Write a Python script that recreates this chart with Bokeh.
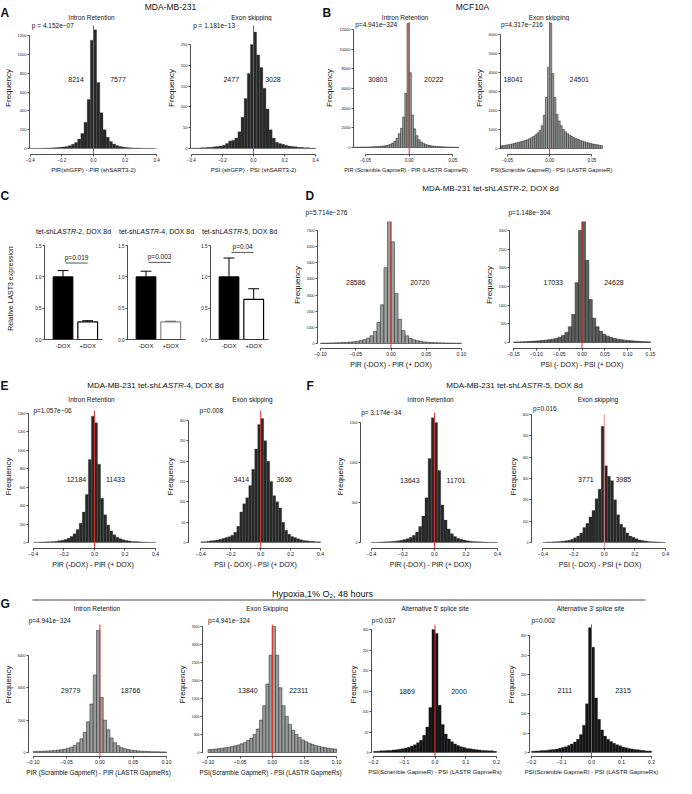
from bokeh.plotting import figure
from bokeh.layouts import column, row
from bokeh.models import Range1d, FixedTicker, Label, NumeralTickFormatter, Spacer
from bokeh.embed import file_html
from bokeh.resources import INLINE

FONT = "Liberation Sans"
INK = "#111111"
RED = "#e8302e"
MINUS = "\u2212"

# ------------------------------------------------------------------ data
# Histogram bin counts (left -> right); bins start / width
A_IR_START, A_IR_BW = -0.4, 0.02
A_IR_COUNTS = [2, 2, 3, 3, 4, 5, 6, 8, 10, 13, 17, 22, 30, 45, 65, 100, 160, 280, 520, 1150,
               1260, 700, 380, 200, 120, 75, 48, 32, 22, 15, 11, 8, 6, 5, 4, 3, 3, 2, 2, 1]
A_ES_START, A_ES_BW = -0.4, 0.02
A_ES_COUNTS = [1, 1, 1, 2, 2, 3, 3, 4, 5, 6, 8, 12, 18, 20, 25, 40, 75, 120, 180, 250,
               280, 225, 195, 145, 95, 45, 25, 15, 12, 10, 8, 6, 5, 4, 3, 3, 2, 2, 1, 1]
B_IR_START, B_IR_BW = -0.065, 0.0025
B_IR_COUNTS = [25, 28, 31, 35, 39, 44, 50, 56, 63, 72, 82, 95, 110, 130, 160, 200, 250, 330, 450, 650,
               950, 1400, 1950, 3100, 5500, 12600,
               7600, 3300, 1900, 1200, 800, 560, 420, 320, 250, 200, 160, 130, 110, 92, 78, 66,
               57, 50, 43, 38, 33, 29, 25, 22, 19, 17]
B_ES_START, B_ES_BW = -0.065, 0.0025
B_ES_COUNTS = [105, 118, 130, 145, 160, 175, 195, 215, 240, 270, 300, 330, 360, 390, 420, 460, 510, 570,
               640, 720, 820, 950, 1200, 1750, 2680, 4270,
               6600, 3950, 2680, 1800, 1450, 1200, 1000, 880, 780, 700, 630, 570, 520, 470, 430, 390,
               350, 320, 290, 260, 235, 215, 195, 175, 160, 145]
D_IR_START, D_IR_BW = -0.1, 0.005
D_IR_COUNTS = [24, 28, 32, 38, 44, 52, 62, 75, 90, 110, 140, 180, 240, 330, 480, 750, 1300, 2400, 4700, 7700,
               6300, 3100, 1500, 800, 480, 320, 230, 170, 130, 100, 80, 65, 55, 46, 40, 34, 29, 25, 22, 19]
D_ES_START, D_ES_BW = -0.15, 0.0075
D_ES_COUNTS = [12, 15, 18, 22, 26, 31, 37, 44, 52, 62, 75, 90, 110, 140, 190, 270, 420, 750, 1600, 3000,
               3300, 2200, 1150, 650, 420, 300, 220, 170, 135, 110, 90, 75, 62, 52, 44, 37, 31, 26, 22, 18]
E_IR_START, E_IR_BW = -0.4, 0.02
E_IR_COUNTS = [3, 4, 5, 6, 7, 9, 11, 14, 18, 24, 32, 45, 65, 95, 140, 210, 330, 520, 900, 1370,
               1300, 850, 480, 300, 190, 125, 85, 58, 40, 29, 21, 16, 12, 10, 8, 6, 5, 4, 3, 3]
E_ES_START, E_ES_BW = -0.4, 0.02
E_ES_COUNTS = [2, 2, 3, 4, 5, 6, 8, 10, 12, 14, 18, 25, 40, 75, 95, 110, 140, 180, 230, 290,
               305, 250, 200, 150, 115, 100, 85, 50, 30, 20, 15, 12, 9, 7, 5, 4, 3, 3, 2, 2]
F_IR_START, F_IR_BW = -0.4, 0.02
F_IR_COUNTS = [3, 4, 5, 7, 8, 10, 13, 16, 21, 27, 36, 48, 65, 90, 130, 200, 330, 560, 1050, 1560,
               1500, 900, 470, 280, 170, 110, 75, 54, 40, 30, 22, 17, 13, 10, 8, 6, 5, 4, 3, 2]
F_ES_START, F_ES_BW = -0.4, 0.02
F_ES_COUNTS = [1, 2, 2, 3, 4, 5, 6, 8, 10, 15, 22, 30, 45, 70, 90, 120, 150, 205, 250, 545,
               360, 310, 290, 200, 130, 85, 70, 45, 30, 25, 18, 12, 9, 7, 5, 4, 3, 2, 2, 1]
G_IR_START, G_IR_BW = -0.1, 0.005
G_IR_COUNTS = [62, 69, 77, 86, 97, 110, 127, 148, 175, 210, 260, 330, 440, 600, 850, 1250, 1900, 3000, 4800, 7560,
               3400, 2000, 1400, 900, 600, 420, 300, 230, 180, 145, 118, 98, 82, 70, 60, 52, 46, 41, 37, 33]
G_ES_START, G_ES_BW = -0.1, 0.005
G_ES_COUNTS = [80, 88, 97, 108, 120, 133, 148, 165, 185, 210, 240, 280, 330, 400, 500, 650, 900, 1300, 1900, 2700,
               3500, 2700, 1800, 1300, 1000, 780, 620, 500, 420, 350, 300, 260, 225, 195, 170, 150, 133, 118, 105, 95]
G_A5_START, G_A5_BW = -0.2, 0.01
G_A5_COUNTS = [3, 3, 4, 4, 5, 5, 6, 7, 8, 9, 11, 13, 16, 19, 24, 30, 42, 62, 110, 300,
               290, 115, 68, 45, 33, 26, 21, 17, 14, 12, 10, 9, 8, 7, 6, 5, 5, 4, 4, 3]
G_A3_START, G_A3_BW = -0.2, 0.01
G_A3_COUNTS = [3, 4, 4, 5, 5, 6, 7, 8, 9, 11, 13, 15, 18, 22, 27, 34, 46, 70, 125, 320,
               270, 140, 85, 58, 42, 34, 28, 24, 20, 17, 14, 12, 10, 9, 8, 7, 6, 5, 4, 4]

# left / right event counts and p-values
A_IR_N, A_ES_N = (8214, 7577), (2477, 3028)
B_IR_N, B_ES_N = (30803, 20222), (18041, 24501)
D_IR_N, D_ES_N = (28586, 20720), (17033, 24628)
E_IR_N, E_ES_N = (12184, 11433), (3414, 3636)
F_IR_N, F_ES_N = (13643, 11701), (3771, 3985)
G_IR_N, G_ES_N, G_A5_N, G_A3_N = (29779, 18766), (13840, 22311), (1869, 2000), (2111, 2315)
P_A = ["p = 4.152e\u221207", "p = 1.181e\u221213"]
P_B = ["p=4.941e\u2212324", "p=4.317e\u2212216"]
P_D = ["p=5.714e\u2212276", "p=1.148e\u2212304"]
P_E = ["p=1.057e\u221206", "p=0.008"]
P_F = ["p= 3.174e\u221234", "p=0.016"]
P_G = ["p=4.941e\u2212324", "p=4.941e\u2212324", "p=0.037", "p=0.002"]

# axis ticks
X_04 = [-0.4, -0.2, 0.0, 0.2, 0.4]
X_005 = [-0.05, 0.0, 0.05]
X_010 = [-0.10, -0.05, 0.0, 0.05, 0.10]
X_015 = [-0.15, -0.10, -0.05, 0.0, 0.05, 0.10, 0.15]
X_02 = [-0.2, -0.1, 0.0, 0.1, 0.2]
Y_A_IR = [0, 200, 400, 600, 800, 1000, 1200]
Y_A_ES = [0, 50, 100, 150, 200, 250]
Y_B_IR = [0, 2000, 4000, 6000, 8000, 10000, 12000]
Y_B_ES = [0, 1000, 2000, 3000, 4000, 5000, 6000]
Y_D_IR = [0, 1000, 2000, 3000, 4000, 5000, 6000, 7000]
Y_D_ES = [0, 500, 1000, 1500, 2000, 2500, 3000]
Y_E_IR = [0, 200, 400, 600, 800, 1000, 1200, 1400]
Y_E_ES = [0, 50, 100, 150, 200, 250, 300]
Y_F_IR = [0, 500, 1000, 1500]
Y_F_ES = [0, 100, 200, 300, 400, 500, 600]
Y_G_IR = [0, 2000, 4000, 6000]
Y_G_ES = [0, 500, 1000, 1500, 2000, 2500, 3000, 3500]
Y_G_SS = [0, 50, 100, 150, 200, 250, 300]

# panel C: relative LAST3 expression
C_GROUPS = ["-DOX", "+DOX"]
C_MINUS = [1.0, 1.0, 1.0]
C_MINUS_ERR = [0.10, 0.09, 0.30]
C_PLUS = [0.28, 0.28, 0.64]
C_PLUS_ERR = [0.02, 0.01, 0.17]
C_P = ["p=0.019", "p=0.003", "p=0.04"]
C_BRACKET = [1.22, 1.23, 1.39]
C_Y_TICKS = [0.0, 0.5, 1.0, 1.5]

# ------------------------------------------------------------------ helpers
DARK = ("#262928", "#3c4140", 0.3)
GREY = ("#979e9b", "#1c1c1c", 0.5)
GREY2 = ("#5d6361", "#151515", 0.5)
BLACK = ("#141414", "#141414", 0.3)

CW = {' ': 278, ',': 278, '-': 333, 'A': 667, 'B': 667, 'D': 722, 'L': 556, 'M': 833, 'O': 778,
      'R': 722, 'S': 667, 'T': 611, 'X': 667, 'd': 556, 'e': 556, 'h': 556, 's': 500, 't': 278}


def tw(s, px):
    return sum(CW.get(c, 556) for c in s) / 1000.0 * px


def fmt(v, d):
    s = f"{abs(v):.{d}f}"
    return (MINUS + s) if v < 0 else s


def lab(f, x, y, text, fs, align="left", style="normal", color=INK):
    f.add_layout(Label(x=x, y=y, text=text, text_font=FONT, text_font_size=fs, text_color=color,
                       text_align=align, text_baseline="middle", text_font_style=style))


def rich(f, xc, y, parts, px):
    x = xc - sum(tw(t, px) for t, _ in parts) / 2.0
    for t, st in parts:
        lab(f, x, y, t, f"{px}px", "left", st)
        x += tw(t, px)


def style_axis(ax, tick_fs, label_fs):
    ax.major_label_text_font = FONT
    ax.major_label_text_font_size = tick_fs
    ax.major_label_text_color = INK
    ax.axis_label_text_font = FONT
    ax.axis_label_text_font_size = label_fs
    ax.axis_label_text_font_style = "normal"
    ax.axis_label_text_color = INK
    ax.minor_tick_line_color = None
    ax.major_tick_in = 0
    ax.major_tick_out = 2
    ax.major_label_standoff = 1
    ax.axis_label_standoff = 2
    ax.axis_line_width = 0.8
    ax.major_tick_line_width = 0.8
    ax.axis_line_color = "#222222"
    ax.major_tick_line_color = "#222222"


def base_fig(W, H, lb, rb, bb, xr, yr):
    f = figure(width=W, height=H, x_range=Range1d(*xr), y_range=Range1d(*yr),
               toolbar_location=None, output_backend="svg", title=None,
               min_border_left=lb, min_border_right=rb, min_border_top=0, min_border_bottom=bb,
               outline_line_color=None, background_fill_color="white", border_fill_color="white")
    f.xgrid.visible = False
    f.ygrid.visible = False
    return f


def hist_fig(W, H, lb, rb, bb, xr, xticks, xdec, yticks, top_px, bot_px,
             start, bw, counts, colors, xlabel, p, p_x, p_px, n, nx, n_y, red_px,
             red_color=RED, yfs="4px", xfs="4.5px", xlfs="6px", pfs="6.5px", nfs="7px", lfs="8px"):
    ymax = yticks[-1]
    upp = ymax / float(H - bb - top_px - bot_px)
    y0, y1 = -bot_px * upp, ymax + top_px * upp
    f = base_fig(W, H, lb, rb, bb, xr, (y0, y1))
    centers = [start + (i + 0.5) * bw for i in range(len(counts))]
    f.vbar(x=centers, top=counts, bottom=0, width=bw,
           fill_color=colors[0], line_color=colors[1], line_width=colors[2])
    f.segment(x0=[0], y0=[y0], x1=[0], y1=[y1 - red_px * upp], line_color=red_color, line_width=1)
    ax = f.xaxis[0]
    ax.ticker = FixedTicker(ticks=xticks)
    ax.major_label_overrides = {t: fmt(t, xdec) for t in xticks}
    ax.bounds = (xticks[0], xticks[-1])
    ax.axis_label = xlabel
    style_axis(ax, xfs, xlfs)
    ay = f.yaxis[0]
    ay.ticker = FixedTicker(ticks=yticks)
    ay.bounds = (0, ymax)
    ay.axis_label = "Frequency"
    style_axis(ay, yfs, lfs)
    if p is not None:
        lab(f, p_x, y1 - p_px * upp, p, pfs)
    lab(f, nx[0], n_y, str(n[0]), nfs, "center")
    lab(f, nx[1], n_y, str(n[1]), nfs, "center")
    return f


def bar_fig(W, H, lb, rb, bb, i, plus_line, ylabel=None):
    upp = 1.5 / float(H - bb - 8)
    f = base_fig(W, H, lb, rb, bb, (-0.75, 1.6), (0, 1.5 + 8 * upp))
    m, me, pl, pe = C_MINUS[i], C_MINUS_ERR[i], C_PLUS[i], C_PLUS_ERR[i]
    f.segment(x0=[0, 1], y0=[m, pl], x1=[0, 1], y1=[m + me, pl + pe], line_color="black", line_width=1)
    f.segment(x0=[-0.22, 0.78], y0=[m + me, pl + pe], x1=[0.22, 1.22], y1=[m + me, pl + pe],
              line_color="black", line_width=1)
    f.vbar(x=[0], top=[m], width=0.8, fill_color="black", line_color="black", line_width=1)
    f.vbar(x=[1], top=[pl], width=0.8, fill_color="white", line_color=plus_line, line_width=1.2)
    by = C_BRACKET[i]
    f.segment(x0=[0.1], y0=[by], x1=[1.0], y1=[by], line_color="#555555", line_width=1)
    lab(f, 0.55, by + 6 * upp, C_P[i], "6.5px", "center")
    ax = f.xaxis[0]
    ax.ticker = FixedTicker(ticks=[0, 1])
    ax.major_label_overrides = {0: C_GROUPS[0], 1: C_GROUPS[1]}
    style_axis(ax, "6px", "6px")
    ax.major_tick_out = 0
    ax.major_label_standoff = 3
    ay = f.yaxis[0]
    ay.ticker = FixedTicker(ticks=C_Y_TICKS)
    ay.formatter = NumeralTickFormatter(format="0.0")
    ay.bounds = (0, 1.5)
    style_axis(ay, "4.5px", "7px")
    if ylabel:
        ay.axis_label = ylabel
        ay.axis_label_standoff = 18
    return f


def header(W, H):
    f = figure(width=W, height=H, x_range=Range1d(0, W), y_range=Range1d(H, 0),
               x_axis_type=None, y_axis_type=None, toolbar_location=None, output_backend="svg",
               title=None, min_border=0, outline_line_color=None,
               background_fill_color="white", border_fill_color="white")
    return f


def tparts(pre, tail):
    return [(pre, "normal"), ("LASTR", "italic"), (tail, "normal")]


# ------------------------------------------------------------------ row A / B
hA = header(322, 21)
lab(hA, 0, 12, "A", "12px", "left", "bold")
lab(hA, 170, 6, "MDA-MB-231", "8.5px", "center")
lab(hA, 91, 17, "Intron Retention", "6.5px", "center")
lab(hA, 251, 17, "Exon skipping", "6.5px", "center")

a1 = hist_fig(163, 157, 25, 6, 24, (-0.405, 0.405), X_04, 1, Y_A_IR, 14, 6,
              A_IR_START, A_IR_BW, A_IR_COUNTS, DARK, "PIR(shGFP) - PIR (shSART3-2)",
              P_A[0], -0.39, 4, A_IR_N, (-0.11, 0.155), 733, 4)
a2 = hist_fig(159, 157, 23, 6, 24, (-0.405, 0.405), X_04, 1, Y_A_ES, 23, 6,
              A_ES_START, A_ES_BW, A_ES_COUNTS, DARK, "PSI (shGFP) - PSI (shSART3-2)",
              P_A[1], -0.388, 4, A_ES_N, (-0.143, 0.125), 166, 4)

hB = header(294, 21)
lab(hB, 0, 12, "B", "12px", "left", "bold")
lab(hB, 150, 6, "MCF10A", "8.5px", "center")
lab(hB, 82.5, 17, "Intron Retention", "6.5px", "center")
lab(hB, 226.5, 17, "Exon skipping", "6.5px", "center")

b1 = hist_fig(149, 157, 29, 13, 24, (-0.0636, 0.0563), X_005, 2, Y_B_IR, 8, 7,
              B_IR_START, B_IR_BW, B_IR_COUNTS, GREY, "PIR (Scramble GapmeR) - PIR (LASTR GapmeR)",
              P_B[0], -0.0616, 3, B_IR_N, (-0.036, 0.028), 6915, 0, xlfs="5.6px")
b2 = hist_fig(145, 157, 24, 14, 24, (-0.058, 0.0625), X_005, 2, Y_B_ES, 13, 6,
              B_ES_START, B_ES_BW, B_ES_COUNTS, GREY, "PSI(Scramble GapmeR) - PSI (LASTR GapmeR)",
              P_B[1], -0.0575, 3, B_ES_N, (-0.043, 0.035), 3630, 0, xlfs="5.6px")

rowAB = row(column(hA, row(a1, a2)), column(hB, row(b1, b2)))

# ------------------------------------------------------------------ row C / D
hC = header(278, 57)
lab(hC, 0, 15, "C", "12px", "left", "bold")
rich(hC, 73, 51, tparts("tet-sh", "-2, DOX 8d"), 7)
rich(hC, 156, 51, tparts("tet-sh", "-4, DOX 8d"), 7)
rich(hC, 239, 51, tparts("tet-sh", "-5, DOX 8d"), 7)
c1 = bar_fig(110, 116, 44, 8, 14, 0, "black", "Relative LAST3 expression")
c2 = bar_fig(83, 116, 17, 8, 14, 1, "#888888")
c3 = bar_fig(85, 116, 17, 10, 14, 2, "black")

hD = header(384, 41)
lab(hD, 27, 15, "D", "12px", "left", "bold")
rich(hD, 212, 8, tparts("MDA-MB-231 tet-sh", "-2, DOX 8d"), 8)
lab(hD, 27, 32, P_D[0], "6.5px")
lab(hD, 230, 32, P_D[1], "6.5px")
d1 = hist_fig(192, 150, 39, 6, 23, (-0.1043, 0.1043), X_010, 2, Y_D_IR, 9, 5,
              D_IR_START, D_IR_BW, D_IR_COUNTS, GREY, "PIR (-DOX) - PIR (+ DOX)",
              None, 0, 0, D_IR_N, (-0.05, 0.041), 3750, 0, yfs="3.5px", xfs="5px", xlfs="7px")
d2 = hist_fig(192, 150, 39, 8, 23, (-0.1588, 0.1588), X_015, 2, Y_D_ES, 9, 6,
              D_ES_START, D_ES_BW, D_ES_COUNTS, GREY2, "PSI (- DOX) - PSI (+ DOX)",
              None, 0, 0, D_ES_N, (-0.063, 0.07), 1607, 0, yfs="3.5px", xfs="5px", xlfs="7px")

rowCD = row(column(hC, row(c1, c2, c3)), column(hD, row(d1, d2)))

# ------------------------------------------------------------------ row E / F
hE = header(328, 31)
lab(hE, 0, 12, "E", "12px", "left", "bold")
rich(hE, 155, 12, tparts("MDA-MB-231 tet-sh", "-4, DOX 8d"), 8)
lab(hE, 91, 26, "Intron Retention", "6.5px", "center")
lab(hE, 252, 26, "Exon skipping", "6.5px", "center")
lab(hE, 306, 12, "F", "12px", "left", "bold")
e1 = hist_fig(162, 167, 25, 5, 23, (-0.432, 0.413), X_04, 1, Y_E_IR, 9, 6,
              E_IR_START, E_IR_BW, E_IR_COUNTS, DARK, "PIR (-DOX) - PIR (+ DOX)",
              P_E[0], -0.40, 6, E_IR_N, (-0.118, 0.137), 684, 6, yfs="3.5px", xfs="5px", xlfs="7px")
e2 = hist_fig(166, 167, 20, 6, 23, (-0.483, 0.413), X_04, 1, Y_E_ES, 16, 6,
              E_ES_START, E_ES_BW, E_ES_COUNTS, DARK, "PSI (- DOX) - PSI (+ DOX)",
              P_E[1], -0.41, 6, E_ES_N, (-0.13, 0.157), 155, 6, yfs="3.5px", xfs="5px", xlfs="7px")

hF = header(346, 31)
rich(hF, 186, 12, tparts("MDA-MB-231 tet-sh", "-5, DOX 8d"), 8)
lab(hF, 102, 26, "Intron Retention", "6.5px", "center")
lab(hF, 269.5, 26, "Exon skipping", "6.5px", "center")
f1 = hist_fig(177, 167, 32, 5, 23, (-0.469, 0.419), X_04, 1, Y_F_IR, 18, 6,
              F_IR_START, F_IR_BW, F_IR_COUNTS, DARK, "PIR (-DOX) - PIR (+ DOX)",
              P_F[0], -0.465, 8, F_IR_N, (-0.156, 0.137), 775, 8, yfs="3.5px", xfs="5px", xlfs="7px")
f2 = hist_fig(169, 167, 22, 6, 23, (-0.475, 0.419), X_04, 1, Y_F_ES, 10, 6,
              F_ES_START, F_ES_BW, F_ES_COUNTS, DARK, "PSI (- DOX) - PSI (+ DOX)",
              P_F[1], -0.465, 4, F_ES_N, (-0.12, 0.125), 295, 10, red_color="#f08a8a",
              yfs="3.5px", xfs="5px", xlfs="7px")

rowEF = row(column(hE, row(e1, e2)), column(hF, row(f1, f2)))

# ------------------------------------------------------------------ row G
hG = header(661, 26)
lab(hG, 322, 7, "Hypoxia,1% O\u2082, 48 hours", "9px", "center")
hG.segment(x0=[32], y0=[13.5], x1=[645], y1=[13.5], line_color="#444444", line_width=1.2)
lab(hG, 0, 17, "G", "12px", "left", "bold")
lab(hG, 96.5, 22, "Intron Retention", "6.5px", "center")
lab(hG, 266.5, 22, "Exon Skipping", "6.5px", "center")
lab(hG, 434.5, 22, "Alternative 5' splice site", "6.5px", "center")
lab(hG, 590, 22, "Alternative 3' splice site", "6.5px", "center")

g1 = hist_fig(174, 166, 25, 6, 22, (-0.1071, 0.1029), X_010, 2, Y_G_IR, 43, 4,
              G_IR_START, G_IR_BW, G_IR_COUNTS, GREY, "PIR (Scramble GapmeR) - PIR (LASTR GapmeRs)",
              P_G[0], -0.1068, 8, G_IR_N, (-0.044, 0.046), 3840, 12, yfs="3.5px", xfs="5px", xlfs="6.4px")
g2 = hist_fig(170, 166, 21, 6, 22, (-0.1085, 0.1029), X_010, 2, Y_G_ES, 14, 4,
              G_ES_START, G_ES_BW, G_ES_COUNTS, GREY, "PSI(Scramble GapmeR) - PSI (LASTR GapmeRs)",
              P_G[1], -0.1, 8, G_ES_N, (-0.038, 0.041), 1736, 12, yfs="3.5px", xfs="5px", xlfs="6.4px")
g3 = hist_fig(159, 166, 27, 5, 22, (-0.2065, 0.2065), X_02, 1, Y_G_SS, 17, 4,
              G_A5_START, G_A5_BW, G_A5_COUNTS, BLACK, "PSI(Scramble GapmeR) - PSI (LASTR GapmeRs)",
              P_G[2], -0.2062, 8, G_A5_N, (-0.091, 0.078), 150, 12, yfs="3.5px", xfs="5px", xlfs="6px")
g4 = hist_fig(158, 166, 24, 8, 22, (-0.2066, 0.2066), X_02, 1, Y_G_SS, 23, 4,
              G_A3_START, G_A3_BW, G_A3_COUNTS, BLACK, "PSI(Scramble GapmeR) - PSI (LASTR GapmeRs)",
              P_G[3], -0.2, 8, G_A3_N, (-0.089, 0.105), 159, 12, yfs="3.5px", xfs="5px", xlfs="6px")

rowG = column(hG, row(g1, g2, g3, g4))

page = column(rowAB, Spacer(height=2), rowCD, Spacer(height=2), rowEF, Spacer(height=15), rowG)

open("out.html", "w").write(file_html(page, INLINE))
